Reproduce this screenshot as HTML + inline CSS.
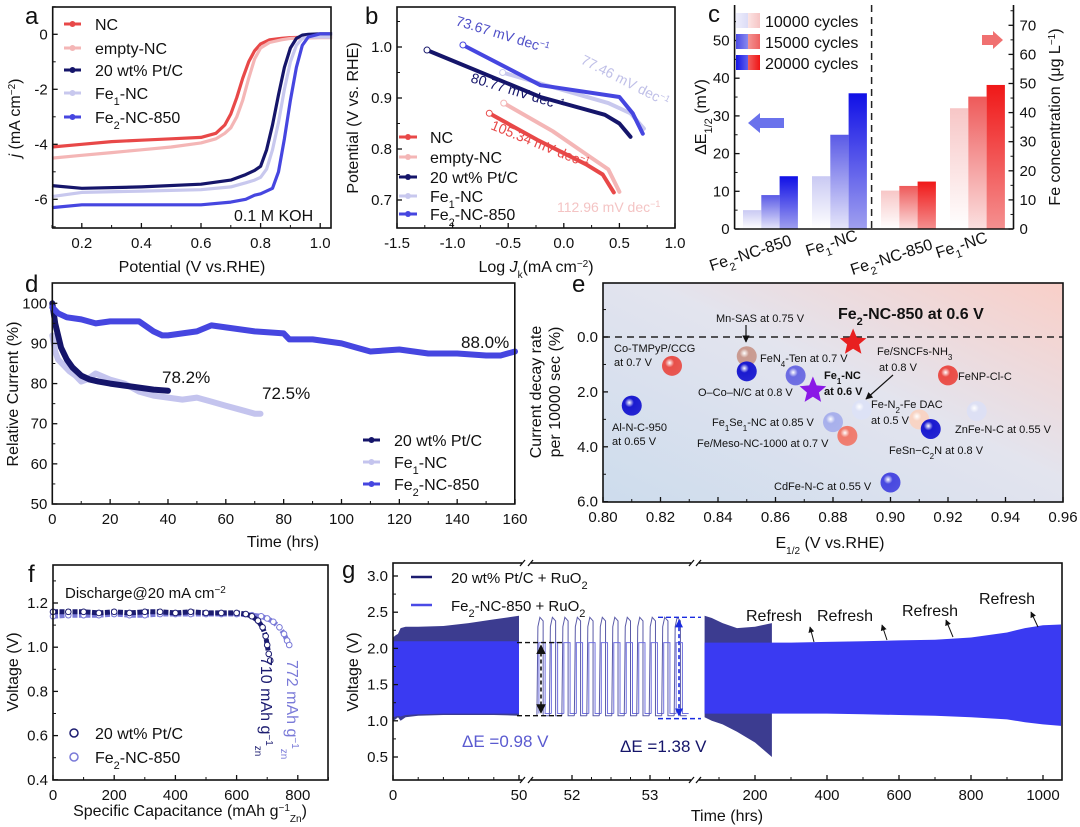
<!DOCTYPE html>
<html><head><meta charset="utf-8">
<style>
html,body{margin:0;padding:0;background:#fff;}
svg{display:block;font-family:"Liberation Sans",Arial,sans-serif;}
</style></head>
<body>
<svg id="fig" width="1080" height="827" viewBox="0 0 1080 827" xmlns="http://www.w3.org/2000/svg">
<defs>
<linearGradient id="bgE" x1="0" y1="1" x2="1" y2="0">
<stop offset="0" stop-color="#cddced"/><stop offset="0.55" stop-color="#e3e4ee"/><stop offset="1" stop-color="#f9cfc8"/></linearGradient>
<linearGradient id="gb1" x1="0" y1="0" x2="0" y2="1"><stop offset="0" stop-color="#c9c9f3"/><stop offset="1" stop-color="#ffffff"/></linearGradient>
<linearGradient id="gb2" x1="0" y1="0" x2="0" y2="1"><stop offset="0" stop-color="#5a5ae6"/><stop offset="1" stop-color="#e6e6fa"/></linearGradient>
<linearGradient id="gb3" x1="0" y1="0" x2="0" y2="1"><stop offset="0" stop-color="#1010e6"/><stop offset="1" stop-color="#a0a0ef"/></linearGradient>
<linearGradient id="gr1" x1="0" y1="0" x2="0" y2="1"><stop offset="0" stop-color="#f7c6c6"/><stop offset="1" stop-color="#ffffff"/></linearGradient>
<linearGradient id="gr2" x1="0" y1="0" x2="0" y2="1"><stop offset="0" stop-color="#ee5a5a"/><stop offset="1" stop-color="#fbe0e0"/></linearGradient>
<linearGradient id="gr3" x1="0" y1="0" x2="0" y2="1"><stop offset="0" stop-color="#f01818"/><stop offset="1" stop-color="#f49090"/></linearGradient>
<linearGradient id="lg1" x1="0" y1="0" x2="1" y2="0"><stop offset="0" stop-color="#eeeefc"/><stop offset="0.5" stop-color="#dcdcf6"/><stop offset="0.5" stop-color="#fbe4e4"/><stop offset="1" stop-color="#f6c4c4"/></linearGradient>
<linearGradient id="lg2" x1="0" y1="0" x2="1" y2="0"><stop offset="0" stop-color="#4a4ae6"/><stop offset="0.5" stop-color="#8a8aee"/><stop offset="0.5" stop-color="#f29494"/><stop offset="1" stop-color="#ee6060"/></linearGradient>
<linearGradient id="lg3" x1="0" y1="0" x2="1" y2="0"><stop offset="0" stop-color="#1414e6"/><stop offset="0.5" stop-color="#6060ee"/><stop offset="0.5" stop-color="#f06060"/><stop offset="1" stop-color="#f01414"/></linearGradient>
<marker id="ah" viewBox="0 0 10 10" refX="9" refY="5" markerWidth="6" markerHeight="6" orient="auto-start-reverse"><path d="M0,0 L10,5 L0,10 z" fill="#111"/></marker>
<marker id="ahb" viewBox="0 0 10 10" refX="9" refY="5" markerWidth="5" markerHeight="6" orient="auto-start-reverse"><path d="M0,0 L10,5 L0,10 z" fill="#1a2be0"/></marker>
</defs>
</svg>
<script>
// ===================== DATA =====================
const aNames = ["NC","empty-NC","20 wt% Pt/C","Fe1-NC","Fe2-NC-850"];
const aX_NC = [0.1,0.2,0.3,0.4,0.5,0.6,0.65,0.68,0.7,0.72,0.74,0.76,0.78,0.8,0.83,0.87,0.9,1.0,1.04];
const aY_NC = [-4.1,-4.0,-3.9,-3.85,-3.8,-3.75,-3.6,-3.3,-2.9,-2.3,-1.6,-1.0,-0.6,-0.35,-0.2,-0.15,-0.12,-0.1,-0.1];
const aY_empty = [-4.5,-4.4,-4.3,-4.2,-4.1,-3.95,-3.8,-3.6,-3.4,-3.0,-2.4,-1.6,-0.9,-0.5,-0.3,-0.2,-0.15,-0.12,-0.12];
const aX_M = [0.1,0.2,0.4,0.6,0.7,0.75,0.78,0.8,0.82,0.84,0.86,0.88,0.9,0.92,0.94,0.96,1.0,1.04];
const aY_Pt = [-5.5,-5.6,-5.55,-5.45,-5.3,-5.1,-4.95,-4.8,-4.2,-3.3,-2.2,-1.2,-0.5,-0.15,-0.03,0,0.02,0.02];
const aY_Fe1 = [-5.9,-5.75,-5.7,-5.65,-5.55,-5.4,-5.3,-5.2,-4.9,-4.2,-3.2,-2.0,-1.0,-0.4,-0.15,-0.1,-0.1,-0.1];
const aY_Fe2 = [-6.3,-6.2,-6.2,-6.2,-6.1,-6.0,-5.85,-5.8,-5.7,-5.6,-5.0,-3.8,-2.4,-1.2,-0.4,-0.1,0.02,0.02];
const aXTicks = [0.2,0.4,0.6,0.8,1.0];
const aYTicks = [0,-2,-4,-6];
const bX_NC = [-0.67,-0.24,0.2,0.35,0.45];
const bY_NC = [0.87,0.818,0.77,0.75,0.715];
const bX_empty = [-0.54,-0.1,0.2,0.4,0.5];
const bY_empty = [0.89,0.835,0.79,0.76,0.716];
const bX_Pt = [-1.23,-0.21,0.37,0.5,0.6];
const bY_Pt = [0.994,0.902,0.867,0.85,0.824];
const bX_Fe1 = [-0.55,0.0,0.4,0.6,0.72];
const bY_Fe1 = [0.95,0.915,0.89,0.87,0.84];
const bX_Fe2 = [-0.907,-0.21,0.5,0.62,0.71];
const bY_Fe2 = [1.004,0.925,0.902,0.87,0.83];
const bXTicks = [-1.5,-1.0,-0.5,0.0,0.5,1.0];
const bYTicks = [0.7,0.8,0.9,1.0];
const cCats = ["Fe2-NC-850","Fe1-NC","Fe2-NC-850","Fe1-NC"];
const cDeltaE_Fe2 = [5,9,14];
const cDeltaE_Fe1 = [14,25,36];
const cFe_Fe2 = [13.2,14.8,16.3];
const cFe_Fe1 = [41.5,45.5,49.5];
const cLeftTicks = [0,10,20,30,40,50];
const cRightTicks = [0,10,20,30,40,50,60,70];
const dT_Fe2 = [0,2,5,10,15,20,25,30,35,38,40,45,50,55,60,70,80,82,90,100,105,110,120,130,140,150,155,160];
const dV_Fe2 = [99,97.5,96.5,96,95,95.5,95.5,95.5,93,92,92,92.5,93,94.5,94,93,92.5,91,91,90,89,88,88.5,87.5,87.5,87,87,88];
const dT_Pt = [0,1,2,3,5,7,10,13,16,20,25,30,35,40];
const dV_Pt = [100,95,92,89,86,84,82,81,80.5,80,79.5,79,78.5,78.2];
const dT_Fe1 = [0,1,2,4,6,8,10,12,15,20,25,30,35,40,45,50,55,60,65,70,72];
const dV_Fe1 = [92,88,86,84.5,83,82,80.5,81,82.5,81,80,78,77,76.5,76,76.5,75.5,74.5,73.5,72.5,72.5];
const dXTicks = [0,20,40,60,80,100,120,140,160];
const dYTicks = [50,60,70,80,90,100];
const eLabels = ["Co-TMPyP/CCG","Mn-SAS","O-Co-N/C","FeN4-Ten","Al-N-C-950","Fe1Se1-NC","Fe/Meso-NC-1000","Fe-N2-Fe DAC","Fe/SNCFs-NH3","FeSn-C2N","ZnFe-N-C","FeNP-Cl-C","CdFe-N-C"];
const eE = [0.824,0.85,0.85,0.867,0.81,0.88,0.885,0.89,0.91,0.914,0.93,0.92,0.90];
const eDecay = [1.05,0.7,1.25,1.4,2.5,3.1,3.6,2.65,3.0,3.35,2.7,1.4,5.3];
const eColors = ["#e8504a","#c99a90","#1a1ad0","#6a6ae2","#1a1ad0","#a8b0ec","#f07a6c","#dde2f6","#f8d4c4","#1a1ad0","#dde0f4","#ea4c46","#4848e0"];
const eStarE = [0.887,0.873];
const eStarDecay = [0.2,1.95];
const eXTicks = [0.80,0.82,0.84,0.86,0.88,0.90,0.92,0.94,0.96];
const eYTicks = [0,2,4,6];
const fC_Pt = [0,50,100,150,200,250,300,350,400,450,500,550,600,630,650,670,685,695,700,705,710];
const fV_Pt = [1.16,1.16,1.16,1.155,1.16,1.155,1.16,1.16,1.155,1.16,1.155,1.155,1.155,1.15,1.14,1.12,1.09,1.05,1.01,0.97,0.94];
const fC_Fe2 = [0,50,100,150,200,250,300,350,400,450,500,550,600,650,680,700,720,740,755,765,772];
const fV_Fe2 = [1.14,1.145,1.145,1.145,1.15,1.145,1.145,1.15,1.15,1.15,1.15,1.15,1.15,1.145,1.14,1.13,1.115,1.09,1.06,1.03,1.01];
const fXTicks = [0,200,400,600,800];
const fYTicks = [0.4,0.6,0.8,1.0,1.2];
const g1T = [0,1,2,3,5,10,20,30,40,50];
const g1PtUp = [2.15,2.18,2.2,2.28,2.3,2.3,2.31,2.35,2.4,2.45];
const g1PtLo = [1.0,1.02,1.05,1.0,1.05,1.07,1.08,1.08,1.08,1.07];
const g1FeUp = [2.1,2.1,2.1,2.1,2.1,2.1,2.1,2.1,2.1,2.1];
const g1FeLo = [1.05,1.06,1.07,1.06,1.08,1.09,1.1,1.1,1.1,1.1];
const g2Cycles = [51.55,51.71,51.87,52.03,52.19,52.35,52.51,52.67,52.83,52.99,53.15,53.31];
const g2PtCharge = 2.43, g2PtDis = 1.07, g2FeCharge = 2.08, g2FeDis = 1.1;
const g3T = [60,100,150,200,247,300,400,500,600,700,800,900,950,1000,1050];
const g3FeUp = [2.08,2.08,2.08,2.08,2.08,2.08,2.09,2.1,2.11,2.12,2.15,2.22,2.28,2.32,2.33];
const g3FeLo = [1.1,1.1,1.1,1.1,1.1,1.1,1.1,1.09,1.08,1.07,1.05,1.02,0.98,0.95,0.93];
const g3PtT = [60,80,110,150,200,247];
const g3PtUp = [2.45,2.42,2.35,2.28,2.3,2.35];
const g3PtLo = [1.05,1.0,0.95,0.85,0.7,0.5];
const gYTicks = [0.5,1.0,1.5,2.0,2.5,3.0];

// ===================== HELPERS =====================
const NS = "http://www.w3.org/2000/svg";
const svg = document.getElementById('fig');
function mk(tag, attrs, parent){ const e=document.createElementNS(NS,tag); for(const k in attrs) e.setAttribute(k,attrs[k]); (parent||svg).appendChild(e); return e; }
function grp(name){ const g=mk('g',{});   return g; }
function tx(p,x,y,html,size,extra){ const t=mk('text',Object.assign({x:x,y:y,'font-size':size||15,fill:'#111'},extra||{}),p); t.innerHTML=html; return t; }
function poly(p,xs,ys,fx,fy){ return xs.map((v,i)=>fx(v).toFixed(1)+','+fy(ys[i]).toFixed(1)).join(' '); }
function box(p,x0,y0,x1,y1){ const r=mk('rect',{x:x0,y:y0,width:x1-x0,height:y1-y0,fill:'none',stroke:'#111','stroke-width':1.6},p);   return r; }
function xTicks(p,vals,fx,y,fmt,len){ vals.forEach(v=>{ const x=fx(v); mk('line',{x1:x,x2:x,y1:y,y2:y-(len||5),stroke:'#111','stroke-width':1.3},p); const t=tx(p,x,y+20,fmt(v),15,{'text-anchor':'middle'});   }); }
function yTicks(p,vals,fy,x,fmt,side){ vals.forEach(v=>{ const y=fy(v); const d=side==='r'?-5:5; mk('line',{x1:x,x2:x+d,y1:y,y2:y,stroke:'#111','stroke-width':1.3},p); const t=tx(p,side==='r'?x+6:x-5,y+5,fmt(v),15,{'text-anchor':side==='r'?'start':'end'});   }); }
function minorX(p,vals,fx,y){ vals.forEach(v=>mk('line',{x1:fx(v),x2:fx(v),y1:y,y2:y-3,stroke:'#111','stroke-width':1},p)); }
function minorY(p,vals,fy,x,side){ vals.forEach(v=>mk('line',{x1:x,x2:x+(side==='r'?-3:3),y1:fy(v),y2:fy(v),stroke:'#111','stroke-width':1},p)); }
function panelLetter(x,y,s){ const t=tx(svg,x,y,s,24);   }

// ===================== PANEL A =====================
(function(){
const p=grp('panel-a-lsv');
const fx=v=>52+(v-0.1)*298, fy=v=>34.3-v*27.5;
const cols=["#e84848","#f4b6b6","#15156a","#c8c8ee","#4646e0"];
const series=[[aX_NC,aY_NC],[aX_NC,aY_empty],[aX_M,aY_Pt],[aX_M,aY_Fe1],[aX_M,aY_Fe2]];
series.forEach((s,i)=>{
  const l=mk('polyline',{points:poly(p,s[0],s[1],fx,fy),fill:'none',stroke:cols[i],'stroke-width':3.2,'stroke-linejoin':'round'},p);
  
  
});
box(p,52.7,7,331,228);
xTicks(p,aXTicks,fx,228,v=>v.toFixed(1));
minorX(p,[0.1,0.3,0.5,0.7,0.9],fx,228);
yTicks(p,aYTicks,fy,52.7,v=>String(v));
minorY(p,[1,-1,-3,-5,-7],fy,52.7);
const leg=[["NC",0],["empty-NC",1],["20 wt% Pt/C",2],["Fe<tspan baseline-shift='sub' font-size='11'>1</tspan>-NC",3],["Fe<tspan baseline-shift='sub' font-size='11'>2</tspan>-NC-850",4]];
const ly=[24,48,70,93,117];
leg.forEach((e,i)=>{ const g=mk('g',{},p);  
  mk('line',{x1:64,x2:81,y1:ly[i],y2:ly[i],stroke:cols[i],'stroke-width':3},g); mk('circle',{cx:72.5,cy:ly[i],r:3,fill:cols[i]},g);
  tx(g,95,ly[i]+6,e[0],16); });
const k=tx(p,234,221,"0.1 M KOH",16);  
const yl=tx(p,0,0,"<tspan font-style='italic'>j</tspan> (mA cm<tspan baseline-shift='super' font-size='10'>−2</tspan>)",16,{transform:'translate(20,118) rotate(-90)','text-anchor':'middle'});
 
const xl=tx(p,192,272,"Potential (V vs.RHE)",16,{'text-anchor':'middle'});  
})();
panelLetter(25,24,'a');

// ===================== PANEL B =====================
(function(){
const p=grp('panel-b-tafel');
const fx=v=>397+(v+1.5)*111.2, fy=v=>47+(1-v)*510;
const cols=["#e84848","#f4b6b6","#15156a","#c8c8ee","#4646e0"];
const S=[[bX_NC,bY_NC],[bX_empty,bY_empty],[bX_Pt,bY_Pt],[bX_Fe1,bY_Fe1],[bX_Fe2,bY_Fe2]];
[1,0,3,4,2].forEach(i=>{ const s=S[i];
  const l=mk('polyline',{points:poly(p,s[0],s[1],fx,fy),fill:'none',stroke:cols[i],'stroke-width':4,'stroke-linecap':'round','stroke-linejoin':'round'},p);
  
  
  const c=mk('circle',{cx:fx(s[0][0]),cy:fy(s[1][0]),r:3,fill:'#fff',stroke:cols[i],'stroke-width':1},p);
  
  
});
box(p,397,7,675,228);
xTicks(p,bXTicks,fx,228,v=>v.toFixed(1));
minorX(p,[-1.25,-0.75,-0.25,0.25,0.75],fx,228);
yTicks(p,bYTicks,fy,397,v=>v.toFixed(1));
minorY(p,[0.75,0.85,0.95,1.05],fy,397);
const ann=[["73.67 mV dec<tspan baseline-shift='super' font-size='9'>−1</tspan>",455,25,17,"#5050c8"],["80.77 mV dec<tspan baseline-shift='super' font-size='9'>−1</tspan>",470,82,17,"#15156a"],["77.46 mV dec<tspan baseline-shift='super' font-size='9'>−1</tspan>",580,63,27,"#c0c0e8"],["105.34 mV dec<tspan baseline-shift='super' font-size='9'>−1</tspan>",490,129,22,"#e84848"],["112.96 mV dec<tspan baseline-shift='super' font-size='9'>−1</tspan>",557,212,0,"#f4c4c4"]];
ann.forEach(a=>{ const t=tx(p,0,0,a[0],14,{fill:a[4],transform:'translate('+a[1]+','+a[2]+') rotate('+a[3]+')'});   });
const leg=["NC","empty-NC","20 wt% Pt/C","Fe<tspan baseline-shift='sub' font-size='11'>1</tspan>-NC","Fe<tspan baseline-shift='sub' font-size='11'>2</tspan>-NC-850"];
const ly=[137,157,177,196,214];
leg.forEach((e,i)=>{ const g=mk('g',{},p);  
  mk('line',{x1:399,x2:417,y1:ly[i],y2:ly[i],stroke:cols[i],'stroke-width':3},g); mk('circle',{cx:408,cy:ly[i],r:3,fill:cols[i]},g);
  tx(g,430,ly[i]+6,e,16); });
const yl=tx(p,0,0,"Potential (V vs. RHE)",16,{transform:'translate(358,118) rotate(-90)','text-anchor':'middle'});  
const xl=tx(p,536,272,"Log <tspan font-style='italic'>J</tspan><tspan baseline-shift='sub' font-size='10'>k</tspan>(mA cm<tspan baseline-shift='super' font-size='10'>−2</tspan>)",16,{'text-anchor':'middle'});  
})();
panelLetter(365,24,'b');

// ===================== PANEL C =====================
(function(){
const p=grp('panel-c-bars');
const fyL=v=>229-v*3.77, fyR=v=>229-v*2.91;
const catX=i=>743+i*69, bw=18.3;
const blueG=['url(#gb1)','url(#gb2)','url(#gb3)'], redG=['url(#gr1)','url(#gr2)','url(#gr3)'];
[[cDeltaE_Fe2,0],[cDeltaE_Fe1,1]].forEach(s=>{ s[0].forEach((v,j)=>{ const r=mk('rect',{x:catX(s[1])+j*bw,y:fyL(v),width:bw,height:229-fyL(v),fill:blueG[j]},p);   }); });
[[cFe_Fe2,2],[cFe_Fe1,3]].forEach(s=>{ s[0].forEach((v,j)=>{ const r=mk('rect',{x:catX(s[1])+j*bw,y:fyR(v),width:bw,height:229-fyR(v),fill:redG[j]},p);   }); });
const dl=mk('line',{x1:871.6,x2:871.6,y1:5,y2:229,stroke:'#222','stroke-width':1.5,'stroke-dasharray':'7,5'},p);  
mk('line',{x1:734.6,x2:734.6,y1:5,y2:229,stroke:'#111','stroke-width':1.6},p);
mk('line',{x1:1013.5,x2:1013.5,y1:5,y2:229,stroke:'#111','stroke-width':1.6},p);
mk('line',{x1:734.6,x2:1013.5,y1:229,y2:229,stroke:'#111','stroke-width':1.6},p);
yTicks(p,cLeftTicks,fyL,734.6,v=>String(v));
minorY(p,[5,15,25,35,45,55],fyL,734.6);
yTicks(p,cRightTicks,fyR,1013.5,v=>String(v),'r');
minorY(p,[5,15,25,35,45,55,65,75],fyR,1013.5,'r');
const labs=["Fe<tspan baseline-shift='sub' font-size='11'>2</tspan>-NC-850","Fe<tspan baseline-shift='sub' font-size='11'>1</tspan>-NC","Fe<tspan baseline-shift='sub' font-size='11'>2</tspan>-NC-850","Fe<tspan baseline-shift='sub' font-size='11'>1</tspan>-NC"];
const lc=[[752,258],[833,248],[893,262],[963,250]];
labs.forEach((s,i)=>{ const t=tx(p,0,0,s,16,{'text-anchor':'middle',transform:'translate('+lc[i][0]+','+lc[i][1]+') rotate(-18)'});   });
const lgf=['url(#lg1)','url(#lg2)','url(#lg3)'], lgt=['10000 cycles','15000 cycles','20000 cycles'];
[13,34,55].forEach((y,i)=>{ const g=mk('g',{},p);  
  mk('rect',{x:736,y:y,width:24,height:15,fill:lgf[i]},g); tx(g,765,y+14,lgt[i],16); });
const ba=mk('path',{d:'M748,123 L760,113 L760,118 L784,118 L784,128 L760,128 L760,133 Z',fill:'#6a72ec'},p);  
const ra=mk('path',{d:'M1003,40 L993,31 L993,35 L982,35 L982,45 L993,45 L993,49 Z',fill:'#f07070'},p);  
const yl=tx(p,0,0,"ΔE<tspan baseline-shift='sub' font-size='11'>1/2</tspan> (mV)",16,{transform:'translate(706,117) rotate(-90)','text-anchor':'middle'});  
const yr=tx(p,0,0,"Fe concentration (μg L<tspan baseline-shift='super' font-size='10'>−1</tspan>)",16,{transform:'translate(1060,117) rotate(-90)','text-anchor':'middle'});  
})();
panelLetter(708,22,'c');

// ===================== PANEL D =====================
(function(){
const p=grp('panel-d-stability');
const fx=v=>52.3+v*2.892, fy=v=>303.3+(100-v)*4.014;
[[dT_Fe1,dV_Fe1,"#c4c4ee"],[dT_Pt,dV_Pt,"#15156a"],[dT_Fe2,dV_Fe2,"#4646e0"]].forEach((s,i)=>{
  const l=mk('polyline',{points:poly(p,s[0],s[1],fx,fy),fill:'none',stroke:s[2],'stroke-width':6,'stroke-linejoin':'round','stroke-linecap':'round'},p);
  
  
});
box(p,52.3,283,514.8,504);
xTicks(p,dXTicks,fx,504,v=>String(v));
minorX(p,[10,30,50,70,90,110,130,150],fx,504);
yTicks(p,dYTicks,fy,52.3,v=>String(v));
minorY(p,[55,65,75,85,95],fy,52.3);
[["88.0%",461,348],["78.2%",162,383],["72.5%",262,399]].forEach(a=>{ const t=tx(p,a[1],a[2],a[0],17);   });
const leg=[["20 wt% Pt/C","#15156a"],["Fe<tspan baseline-shift='sub' font-size='11'>1</tspan>-NC","#c4c4ee"],["Fe<tspan baseline-shift='sub' font-size='11'>2</tspan>-NC-850","#4646e0"]];
[440,462,484].forEach((y,i)=>{ const g=mk('g',{},p);  
  mk('line',{x1:363,x2:380,y1:y,y2:y,stroke:leg[i][1],'stroke-width':3},g); mk('circle',{cx:371.5,cy:y,r:3,fill:leg[i][1]},g); tx(g,394,y+6,leg[i][0],16); });
const yl=tx(p,0,0,"Relative Current (%)",16,{transform:'translate(18,394) rotate(-90)','text-anchor':'middle'});  
const xl=tx(p,283,547,"Time (hrs)",16,{'text-anchor':'middle'});  
})();
panelLetter(25,292,'d');

// ===================== PANEL E =====================
(function(){
const p=grp('panel-e-comparison');
const fx=v=>603+(v-0.8)*2875, fy=v=>337+v*27.45;
const bg=mk('rect',{x:603,y:283,width:460,height:219,fill:'url(#bgE)'},p);  
const dl=mk('line',{x1:603,x2:1063,y1:fy(0),y2:fy(0),stroke:'#222','stroke-width':1.4,'stroke-dasharray':'7,5'},p);  
const defs=svg.querySelector('defs');
eE.forEach((v,i)=>{
  const gid='sph'+i;
  const rg=mk('radialGradient',{id:gid,cx:'0.38',cy:'0.35',r:'0.65'},defs);
  mk('stop',{offset:'0','stop-color':'#ffffff'},rg); mk('stop',{offset:'0.35','stop-color':eColors[i]},rg); mk('stop',{offset:'1','stop-color':eColors[i],'stop-opacity':'0.95'},rg);
  const c=mk('circle',{cx:fx(v),cy:fy(eDecay[i]),r:10,fill:'url(#'+gid+')'},p);
  
  
});
function star(cx,cy,R,col){ let d=''; for(let k=0;k<10;k++){ const r=k%2?R*0.45:R; const a=-Math.PI/2+k*Math.PI/5; d+=(k?'L':'M')+(cx+r*Math.cos(a)).toFixed(1)+','+(cy+r*Math.sin(a)).toFixed(1);} return mk('path',{d:d+'Z',fill:col},p); }
const s1=star(fx(eStarE[0]),fy(eStarDecay[0]),14,'#e82020');  
const s2=star(fx(eStarE[1]),fy(eStarDecay[1]),14,'#8a18e6');  
box(p,603,283,1063,502);
xTicks(p,eXTicks,fx,502,v=>v.toFixed(2));
minorX(p,[0.81,0.83,0.85,0.87,0.89,0.91,0.93,0.95],fx,502);
yTicks(p,eYTicks,fy,603,v=>v.toFixed(1));
minorY(p,[-1,1,3,5],fy,603);
const L=[["Mn-SAS at 0.75 V",716,322],["Co-TMPyP/CCG",614,352],["at 0.7 V",614,366],["FeN<tspan baseline-shift='sub' font-size='8'>4</tspan>-Ten at 0.7 V",760,362],["Fe/SNCFs-NH<tspan baseline-shift='sub' font-size='8'>3</tspan>",877,355],["at 0.8 V",879,371],["FeNP-Cl-C",958,380],["O–Co–N/C at 0.8 V",698,396],["Fe-N<tspan baseline-shift='sub' font-size='8'>2</tspan>-Fe DAC",871,408],["at 0.5 V",871,424],["Al-N-C-950",612,431],["at 0.65 V",612,445],["Fe<tspan baseline-shift='sub' font-size='8'>1</tspan>Se<tspan baseline-shift='sub' font-size='8'>1</tspan>-NC at 0.85 V",712,426],["Fe/Meso-NC-1000 at 0.7 V",697,447],["ZnFe-N-C at 0.55 V",955,433],["FeSn−C<tspan baseline-shift='sub' font-size='8'>2</tspan>N at 0.8 V",889,454],["CdFe-N-C at 0.55 V",774,490]];
L.forEach(a=>{ const t=tx(p,a[1],a[2],a[0],11);   });
[["Fe<tspan baseline-shift='sub' font-size='8'>1</tspan>-NC",824,379],["at 0.6 V",824,395]].forEach(a=>{ const t=tx(p,a[1],a[2],a[0],11,{'font-weight':'bold'});   });
const ti=tx(p,838,319,"Fe<tspan baseline-shift='sub' font-size='11'>2</tspan>-NC-850 at 0.6 V",16,{'font-weight':'bold'});  
const a1=mk('line',{x1:746,y1:325,x2:746,y2:342,stroke:'#111','stroke-width':1.2,'marker-end':'url(#ah)'},p);  
const a2=mk('line',{x1:893,y1:375,x2:866,y2:399,stroke:'#111','stroke-width':1.2,'marker-end':'url(#ah)'},p);  
const yl=tx(p,0,0,"Current decay rate",16,{transform:'translate(541,392) rotate(-90)','text-anchor':'middle'});  
const yl2=tx(p,0,0,"per 10000 sec (%)",16,{transform:'translate(560,392) rotate(-90)','text-anchor':'middle'});  
const xl=tx(p,830,548,"E<tspan baseline-shift='sub' font-size='10'>1/2</tspan> (V vs.RHE)",16,{'text-anchor':'middle'});  
})();
panelLetter(572,292,'e');

// ===================== PANEL F =====================
(function(){
const p=grp('panel-f-discharge');
const fx=v=>53+v*0.306, fy=v=>603-(v-1.2)*221;
[[fC_Fe2,fV_Fe2,"#7a7ad8"],[fC_Pt,fV_Pt,"#1c1c70"]].forEach((s,i)=>{
  const l=mk('polyline',{points:poly(p,s[0],s[1],fx,fy),fill:'none',stroke:s[2],'stroke-width':5,'stroke-dasharray':'5,1.5','stroke-linejoin':'round'},p);
  
  
  s[0].forEach((c,j)=>{ const m=mk('circle',{cx:fx(c),cy:fy(s[1][j]),r:2.8,fill:'#fff',stroke:s[2],'stroke-width':1},p);
    
     });
});
box(p,53,565,328,780);
xTicks(p,fXTicks,fx,780,v=>String(v));
minorX(p,[100,300,500,700,900],fx,780);
yTicks(p,fYTicks,fy,53,v=>v.toFixed(1));
minorY(p,[0.5,0.7,0.9,1.1,1.3],fy,53);
const d=tx(p,65,598,"Discharge@20 mA cm<tspan baseline-shift='super' font-size='10'>−2</tspan>",15);  
[["20 wt% Pt/C","#1c1c70",733],["Fe<tspan baseline-shift='sub' font-size='11'>2</tspan>-NC-850","#7a7ad8",757]].forEach(e=>{ const g=mk('g',{},p);  
  mk('circle',{cx:74,cy:e[2],r:4,fill:'none',stroke:e[1],'stroke-width':1.5},g); tx(g,95,e[2]+6,e[0],16); });
const r1=tx(p,0,0,"710 mAh g<tspan baseline-shift='super' font-size='10'>−1</tspan><tspan baseline-shift='sub' font-size='10'>zn</tspan>",16,{fill:'#1c1c70',transform:'translate(261,657) rotate(90)'});  
const r2=tx(p,0,0,"772 mAh g<tspan baseline-shift='super' font-size='10'>−1</tspan><tspan baseline-shift='sub' font-size='10'>zn</tspan>",16,{fill:'#7a7ad8',transform:'translate(287,660) rotate(90)'});  
const yl=tx(p,0,0,"Voltage (V)",16,{transform:'translate(18,672) rotate(-90)','text-anchor':'middle'});  
const xl=tx(p,190,816,"Specific Capacitance (mAh g<tspan baseline-shift='super' font-size='10'>−1</tspan><tspan baseline-shift='sub' font-size='10'>Zn</tspan>)",16,{'text-anchor':'middle'});  
})();
panelLetter(28,582,'f');

// ===================== PANEL G =====================
(function(){
const p=grp('panel-g-cycling');
const fy=v=>576-(v-3.0)*72.4;
const x1=t=>393+t*2.52, x2=t=>572+(t-52)*78, x3=t=>755+(t-200)*0.36;
function band(xs,up,lo,fx,col,name){ const pts=xs.map((t,i)=>fx(t).toFixed(1)+','+fy(up[i]).toFixed(1)).concat(xs.slice().reverse().map((t,i)=>fx(t).toFixed(1)+','+fy(lo[xs.length-1-i]).toFixed(1))).join(' ');
  const b=mk('polygon',{points:pts,fill:col},p);   }
band(g1T,g1PtUp,g1PtLo,x1,'#3c3c90','ptc-band-seg1');
band(g1T,g1FeUp,g1FeLo,x1,'#3a3af2','fe2-band-seg1');
band(g3PtT,g3PtUp,g3PtLo,x3,'#3c3c90','ptc-band-seg3');
band(g3T,g3FeUp,g3FeLo,x3,'#3a3af2','fe2-band-seg3');
const per=g2Cycles[1]-g2Cycles[0];
g2Cycles.forEach(t0=>{
  const a=x2(t0), m=x2(t0+per*0.5), e=x2(t0+per);
  const pt=mk('path',{d:'M'+a+','+fy(g2PtDis)+' L'+(a+1)+','+fy(2.3)+' L'+(a+3)+','+fy(g2PtCharge)+' L'+m+','+fy(g2PtCharge-0.05)+' L'+m+','+fy(g2PtDis)+' L'+e+','+fy(g2PtDis),fill:'none',stroke:'#5a5aa8','stroke-width':1},p);
  
  
  const fe=mk('path',{d:'M'+(a+2)+','+fy(g2FeDis)+' L'+(a+2)+','+fy(g2FeCharge)+' L'+(m+2)+','+fy(g2FeCharge)+' L'+(m+2)+','+fy(g2FeDis)+' L'+(e+2)+','+fy(g2FeDis),fill:'none',stroke:'#7070e0','stroke-width':1},p);
  
  
});
mk('line',{x1:517,x2:562,y1:fy(2.08),y2:fy(2.08),stroke:'#111','stroke-width':1.4,'stroke-dasharray':'5,3'},p);
mk('line',{x1:517,x2:562,y1:fy(1.07),y2:fy(1.07),stroke:'#111','stroke-width':1.4,'stroke-dasharray':'5,3'},p);
const da=mk('line',{x1:541,x2:541,y1:fy(2.04),y2:fy(1.11),stroke:'#111','stroke-width':1.6,'stroke-dasharray':'4,3','marker-start':'url(#ah)','marker-end':'url(#ah)'},p);  
mk('line',{x1:658,x2:701,y1:fy(2.43),y2:fy(2.43),stroke:'#1a2be0','stroke-width':1.4,'stroke-dasharray':'5,3'},p);
mk('line',{x1:658,x2:701,y1:fy(1.03),y2:fy(1.03),stroke:'#1a2be0','stroke-width':1.4,'stroke-dasharray':'5,3'},p);
const db=mk('line',{x1:679,x2:679,y1:fy(2.39),y2:fy(1.07),stroke:'#1a2be0','stroke-width':1.6,'stroke-dasharray':'4,3','marker-start':'url(#ahb)','marker-end':'url(#ahb)'},p);  
box(p,393,563,1062,780);
[[520,533],[689,701]].forEach(b=>{ [563,780].forEach(y=>{ mk('rect',{x:b[0]+2,y:y-2,width:b[1]-b[0]-4,height:4,fill:'#fff'},p); mk('line',{x1:b[0],y1:y+3,x2:b[0]+5,y2:y-3,stroke:'#111','stroke-width':1.3},p); mk('line',{x1:b[1]-5,y1:y+3,x2:b[1],y2:y-3,stroke:'#111','stroke-width':1.3},p); }); });
const xt=[[0,x1],[50,x1],[52,x2],[53,x2],[200,x3],[400,x3],[600,x3],[800,x3],[1000,x3]];
xt.forEach(a=>{ const x=a[1](a[0]); mk('line',{x1:x,x2:x,y1:780,y2:775,stroke:'#111','stroke-width':1.3},p); const t=tx(p,x,800,String(a[0]),15,{'text-anchor':'middle'});   });
minorX(p,[10,20,30,40],x1,780); minorX(p,[52.25,52.5,52.75,53.25],x2,780); minorX(p,[100,300,500,700,900],x3,780);
yTicks(p,gYTicks,fy,393,v=>v.toFixed(1));
minorY(p,[0.75,1.25,1.75,2.25,2.75],fy,393);
[["20 wt% Pt/C + RuO<tspan baseline-shift='sub' font-size='11'>2</tspan>","#1c1c70",577],["Fe<tspan baseline-shift='sub' font-size='11'>2</tspan>-NC-850 + RuO<tspan baseline-shift='sub' font-size='11'>2</tspan>","#4a4ae6",605]].forEach(e=>{ const g=mk('g',{},p);  
  mk('line',{x1:411,x2:432,y1:e[2],y2:e[2],stroke:e[1],'stroke-width':2.5},g); tx(g,451,e[2]+6,e[0],15); });
const t1=tx(p,462,747,"ΔE =0.98 V",17,{fill:'#5a5ad0'});  
const t2=tx(p,620,752,"ΔE =1.38 V",17,{fill:'#15156a'});  
[[746,621,810,627,814,642],[817,621,882,625,887,640],[902,616,946,620,953,637],[979,604,1031,612,1038,627]].forEach(r=>{
  const t=tx(p,r[0],r[1],"Refresh",16);  
  const a=mk('line',{x1:r[4],y1:r[5],x2:r[2],y2:r[3],stroke:'#111','stroke-width':1,'marker-end':'url(#ah)'},p);   });
const yl=tx(p,0,0,"Voltage (V)",16,{transform:'translate(358,672) rotate(-90)','text-anchor':'middle'});  
const xl=tx(p,727,821,"Time (hrs)",16,{'text-anchor':'middle'});  
})();
panelLetter(342,578,'g');
</script>
</body></html>
